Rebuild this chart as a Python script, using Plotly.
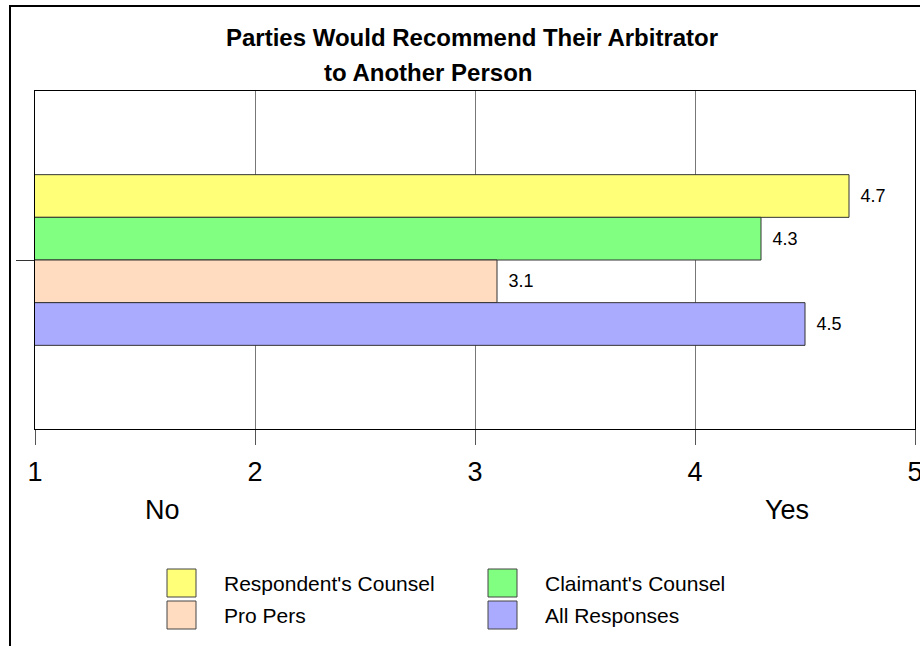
import plotly.graph_objects as go

# ---- data ----
series_names = ["Respondent's Counsel", "Claimant's Counsel", "Pro Pers", "All Responses"]
series_values = [4.7, 4.3, 3.1, 4.5]
series_colors = ["#FFFF78", "#80FF80", "#FFDCC0", "#AAAAFF"]
x_tickvals = [1, 2, 3, 4, 5]
x_ticktext = ["1", "2", "3", "4", "5"]
title_lines = ["Parties Would Recommend Their Arbitrator", "to Another Person"]
scale_labels = ["No", "Yes"]
scale_label_pos = [1.58, 4.42]

W, H = 920, 646
L, R, T, B = 35, 5, 91, 217
PW, PH = W - L - R, H - T - B
FONT = "Arial, Liberation Sans, sans-serif"


def px2x(px):
    return (px - L) / PW


def py2y(py):
    return (T + PH - py) / PH


fig = go.Figure()
for name, val, col in zip(series_names, series_values, series_colors):
    fig.add_trace(go.Bar(
        x=[val], y=[0], orientation="h", name=name,
        marker=dict(color=col, line=dict(color="#333333", width=1)),
        text=["\u00a0\u2009" + f"{val:.1f}"], textposition="outside",
        textfont=dict(family=FONT, size=18, color="#000000"),
        constraintext="none", cliponaxis=False, showlegend=False,
    ))

shapes = []
annotations = []

# outer frame
shapes.append(dict(type="rect", xref="paper", yref="paper",
                   x0=px2x(10), x1=px2x(930), y0=py2y(660), y1=py2y(6),
                   line=dict(color="#000000", width=2), fillcolor="rgba(0,0,0,0)", layer="below"))

# title
annotations.append(dict(text="<b>" + title_lines[0] + "</b>", xref="paper", yref="paper",
                        x=px2x(472), y=py2y(37), xanchor="center", yanchor="middle",
                        showarrow=False, font=dict(family=FONT, size=24, color="#000000")))
annotations.append(dict(text="<b>" + title_lines[1] + "</b>", xref="paper", yref="paper",
                        x=px2x(428), y=py2y(73), xanchor="center", yanchor="middle",
                        showarrow=False, font=dict(family=FONT, size=24, color="#000000")))

# No / Yes labels
for lab, pos in zip(scale_labels, scale_label_pos):
    annotations.append(dict(text=lab, xref="x", yref="paper", x=pos, y=py2y(510),
                            xanchor="center", yanchor="middle", showarrow=False,
                            font=dict(family=FONT, size=27, color="#000000")))

# manual legend (2 columns)
for i, (name, col) in enumerate(zip(series_names, series_colors)):
    c, r = i % 2, i // 2
    sx = 167 + c * 321
    sy = 569 + r * 32
    shapes.append(dict(type="rect", xref="paper", yref="paper",
                       x0=px2x(sx), x1=px2x(sx + 29), y0=py2y(sy + 28), y1=py2y(sy),
                       line=dict(color="#444444", width=1), fillcolor=col))
    annotations.append(dict(text=name, xref="paper", yref="paper",
                            x=px2x(sx + 55), y=py2y(sy + 14), xanchor="left", yanchor="middle",
                            showarrow=False, font=dict(family=FONT, size=21, color="#000000")))

fig.update_layout(
    width=W, height=H,
    margin=dict(l=L, r=R, t=T, b=B, pad=0, autoexpand=False),
    paper_bgcolor="#FFFFFF", plot_bgcolor="#FFFFFF",
    barmode="group", bargap=0.495, bargroupgap=0,
    showlegend=False,
    shapes=shapes, annotations=annotations,
    font=dict(family=FONT, color="#000000"),
)
fig.update_xaxes(
    range=[1, 5], tickvals=x_tickvals, ticktext=x_ticktext,
    showgrid=True, gridcolor="#777777", gridwidth=1,
    showline=True, linecolor="#000000", linewidth=1, mirror=True,
    ticks="outside", ticklen=15, tickcolor="#555555", tickwidth=1,
    tickfont=dict(family=FONT, size=27, color="#000000"),
    ticklabelstandoff=4, ticklabeloverflow="allow", zeroline=False,
    automargin=False,
)
fig.update_yaxes(
    range=[0.5, -0.5], tickvals=[0], showticklabels=False,
    showgrid=False, zeroline=False,
    showline=True, linecolor="#000000", linewidth=1, mirror=True,
    ticks="outside", ticklen=18, tickcolor="#333333", tickwidth=1,
    automargin=False,
)

fig.write_html("out.html")
